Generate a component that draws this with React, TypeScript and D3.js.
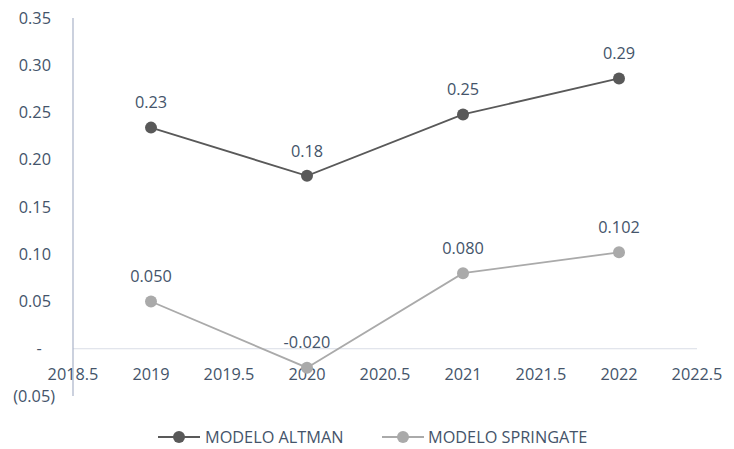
import React from "react";
import * as d3 from "d3";

const years = [2019, 2020, 2021, 2022];
const altman = [0.234, 0.183, 0.248, 0.286];
const altmanLabels = ["0.23", "0.18", "0.25", "0.29"];
const springate = [0.05, -0.02, 0.08, 0.102];
const springateLabels = ["0.050", "-0.020", "0.080", "0.102"];
const yTicks = [-0.05, 0, 0.05, 0.1, 0.15, 0.2, 0.25, 0.3, 0.35];
const xTicks = [2018.5, 2019, 2019.5, 2020, 2020.5, 2021, 2021.5, 2022, 2022.5];
const seriesNames = ["MODELO ALTMAN", "MODELO SPRINGATE"];

const W = 734;
const H = 449;
const FONT = "'Open Sans', sans-serif";
const FS = 16.3;
const TEXT = "#44546a";
const C1 = "#595959";
const C2 = "#aaaaaa";

function fmtY(v: number) {
  if (Math.abs(v) < 1e-9) return "-";
  if (v < 0) return `(${Math.abs(v).toFixed(2)})`;
  return v.toFixed(2);
}

export default function App() {
  const x = d3.scaleLinear().domain([2018.5, 2022.5]).range([73, 697]);
  const y = d3.scaleLinear().domain([-0.05, 0.35]).range([396, 18]);
  const line = d3
    .line<number>()
    .x((_, i) => x(years[i]))
    .y((d) => y(d));

  const series = [
    { vals: altman, labels: altmanLabels, color: C1 },
    { vals: springate, labels: springateLabels, color: C2 },
  ];

  return (
    <svg
      width={W}
      height={H}
      style={{ position: "absolute", left: 0, top: 0, background: "#fff" }}
      fontFamily={FONT}
    >
      <rect width={W} height={H} fill="#fff" />
      <line x1={x(2018.5)} x2={x(2022.5)} y1={y(0)} y2={y(0)} stroke="#d9dde6" strokeWidth={1.2} />
      <line x1={x(2018.5)} x2={x(2018.5)} y1={y(0.35)} y2={y(-0.05)} stroke="#a9b2c8" strokeWidth={1.2} />
      {yTicks.map((t) => (
        <text
          key={t}
          x={Math.abs(t) < 1e-9 ? 39 : t < 0 ? 55 : 51}
          y={y(t)}
          dy="0.35em"
          textAnchor={Math.abs(t) < 1e-9 ? "middle" : "end"}
          fontSize={FS}
          fill={TEXT}
        >
          {fmtY(t)}
        </text>
      ))}
      {xTicks.map((t) => (
        <text key={t} x={x(t)} y={374} dy="0.35em" textAnchor="middle" fontSize={FS} fill={TEXT}>
          {String(t)}
        </text>
      ))}
      {series.map((s, si) => (
        <g key={si}>
          <path d={line(s.vals) || ""} fill="none" stroke={s.color} strokeWidth={1.8} />
          {s.vals.map((v, i) => (
            <circle key={i} cx={x(years[i])} cy={y(v)} r={6} fill={s.color} />
          ))}
          {s.vals.map((v, i) => (
            <text
              key={"l" + i}
              x={x(years[i])}
              y={y(v) - 25}
              dy="0.35em"
              textAnchor="middle"
              fontSize={FS}
              fill={TEXT}
            >
              {s.labels[i]}
            </text>
          ))}
        </g>
      ))}
      {[
        { x0: 158, tx: 205, color: C1, name: seriesNames[0] },
        { x0: 382, tx: 428, color: C2, name: seriesNames[1] },
      ].map((l, i) => (
        <g key={i}>
          <line x1={l.x0} x2={l.x0 + 42} y1={437} y2={437} stroke={l.color} strokeWidth={1.8} />
          <circle cx={l.x0 + 21} cy={437} r={6} fill={l.color} />
          <text x={l.tx} y={437} dy="0.35em" fontSize={FS} fill={TEXT}>
            {l.name}
          </text>
        </g>
      ))}
    </svg>
  );
}
